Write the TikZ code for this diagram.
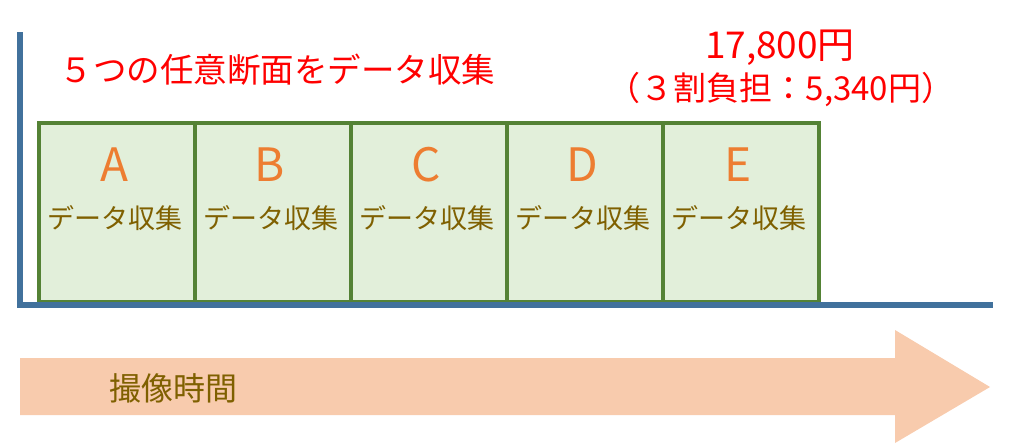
\documentclass[tikz,border=0pt]{standalone}
\usepackage{fontspec}
\setmainfont{Noto Sans CJK JP}
\usetikzlibrary{positioning}
\definecolor{axisblue}{HTML}{41719C}
\definecolor{boxgreen}{HTML}{E2EFDA}
\definecolor{boxline}{HTML}{548235}
\definecolor{letterorange}{HTML}{ED7D31}
\definecolor{labelbrown}{HTML}{7F6000}
\definecolor{arrowpeach}{HTML}{F8CBAD}
\begin{document}
\begin{tikzpicture}[x=1pt,y=-1pt]
  \tikzset{
    slotbox/.style={
      draw=boxline,
      fill=boxgreen,
      line width=3.5pt,
      minimum width=156pt,
      minimum height=179pt,
      inner sep=0pt
    },
    slotletter/.style={
      text=letterorange,
      font=\fontsize{46}{46}\selectfont
    },
    slotlabel/.style={
      text=labelbrown,
      font=\fontsize{27}{27}\selectfont
    },
    redtext/.style={
      text=red,
      font=\fontsize{33}{36}\selectfont
    }
  }
  \useasboundingbox (0,0) rectangle (1024,445);

  % time arrow
  \fill[arrowpeach] (20,358) -- (895,358) -- (895,330) -- (990,387)
    -- (895,443) -- (895,415) -- (20,415) -- cycle;
  \node[text=labelbrown, font=\fontsize{32}{32}\selectfont, anchor=west] (time) at (106,388) {撮像時間};

  % slots
  \foreach \name/\i in {A/0,B/1,C/2,D/3,E/4} {
    \node[slotbox, anchor=north west] (box\name) at (37+156*\i,121) {};
    \node[slotletter] (let\name) at (114+156*\i,165) {\name};
    \node[slotlabel] (lab\name) at (115+156*\i,218) {データ収集};
  }

  % axes
  \coordinate (origin) at (20,305);
  \coordinate (ytop) at (20,32);
  \coordinate (xend) at (993,305);
  \draw[axisblue, line width=6pt] (ytop) -- (origin) -- (xend);

  % texts
  \node[redtext, anchor=west, font=\fontsize{33.5}{33.5}\selectfont] (title) at (56,70) {５つの任意断面をデータ収集};
  \node[redtext, font=\fontsize{37}{37}\selectfont] (price) at (780,48) {17,800円};
  \node[redtext] (share) at (781,90) {（３割負担：5,340円）};
\end{tikzpicture}
\end{document}
